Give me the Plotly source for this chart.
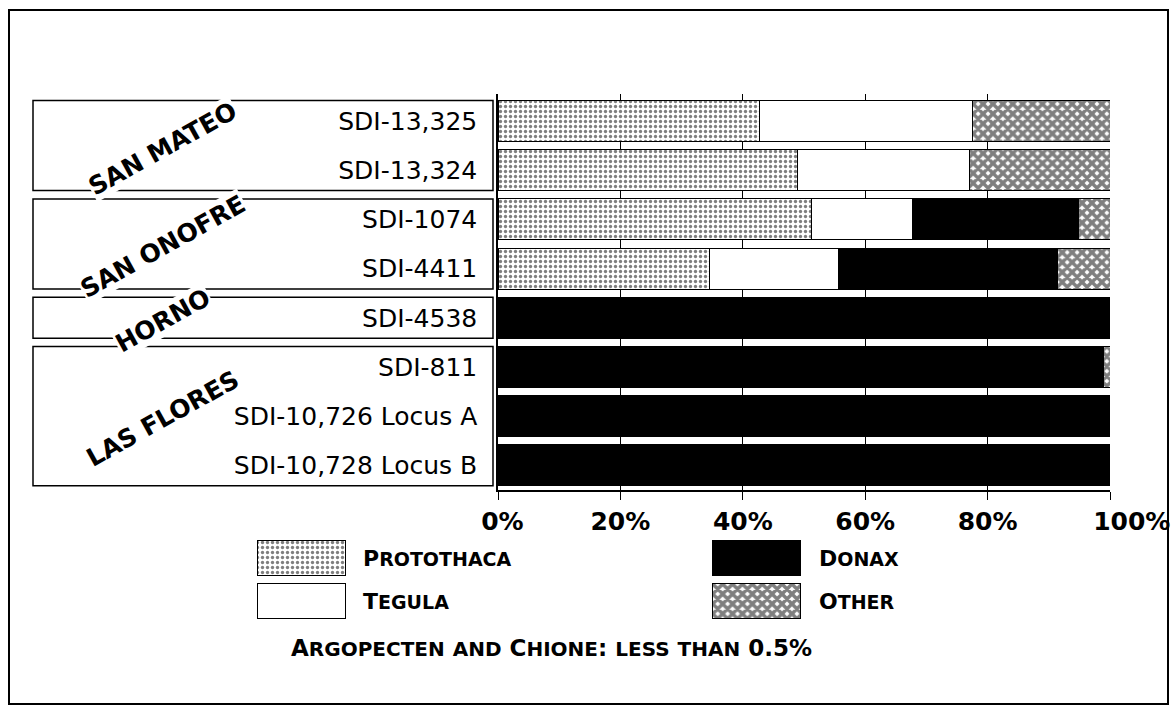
import plotly.graph_objects as go

# ---------------- data ----------------
sites = ["SDI-13,325", "SDI-13,324", "SDI-1074", "SDI-4411", "SDI-4538",
         "SDI-811", "SDI-10,726 Locus A", "SDI-10,728 Locus B"]
protothaca = [42.8, 49.0, 51.3, 34.6, 0, 0, 0, 0]
tegula = [34.8, 28.0, 16.5, 21.1, 0, 0, 0, 0]
donax = [0, 0, 27.0, 35.8, 100, 99.0, 100, 100]
other = [22.4, 23.0, 5.2, 8.5, 0, 1.0, 0, 0]
series_names = ["Protothaca", "Tegula", "Donax", "Other"]
groups = ["SAN MATEO", "SAN ONOFRE", "HORNO", "LAS FLORES"]
group_sizes = [2, 2, 1, 3]
x_ticks = [0, 20, 40, 60, 80, 100]
x_tick_labels = ["0%", "20%", "40%", "60%", "80%", "100%"]
note = "Argopecten and Chione: less than 0.5%"

# ---------------- styling ----------------
W, H = 1176, 708
def px(x):
    return x / W
def py(y):
    return 1 - y / H

def small_caps(s, small=19):
    """Render lowercase letters as smaller capitals (true text kept)."""
    out, buf, mode = [], "", None
    for ch in s:
        m = ch.islower()
        if mode is None or m == mode:
            buf += ch
        else:
            out.append((mode, buf))
            buf = ch
        mode = m
    out.append((mode, buf))
    return "".join(f"<span style='font-size:{small}px'>{b.upper()}</span>" if m else b for m, b in out)

pad = "\u00a0"
tick_text_shifted = [pad * 1 + x_tick_labels[0]] + x_tick_labels[1:-1] + [pad * 5 + x_tick_labels[-1]]

styles = {
    "Protothaca": dict(color="white", line=dict(color="black", width=1),
                       pattern=dict(shape=".", fgcolor="black", bgcolor="white", size=5, solidity=0.35)),
    "Tegula": dict(color="white", line=dict(color="black", width=1)),
    "Donax": dict(color="black", line=dict(color="black", width=1)),
    "Other": dict(color="white", line=dict(color="black", width=1),
                  pattern=dict(shape="x", fgcolor="black", bgcolor="white", size=7, solidity=0.75)),
}
values = {"Protothaca": protothaca, "Tegula": tegula, "Donax": donax, "Other": other}
label_font = dict(family="DejaVu Sans", size=22, color="black", weight=700)

fig = go.Figure()
for name in series_names:
    vals = [v if v else None for v in values[name]]
    fig.add_trace(go.Bar(y=sites, x=vals, orientation="h", name=name,
                         marker=styles[name], showlegend=False, hoverinfo="x+name"))

# legend swatches on a pixel-overlay axis
for i, name in enumerate(series_names):
    col, row = i // 2, i % 2
    fig.add_trace(go.Bar(y=[557.5 + row * 43], x=[88], base=[257 + col * 455], width=35,
                         orientation="h", marker=styles[name], xaxis="x2", yaxis="y2",
                         showlegend=False, hoverinfo="skip"))
    fig.add_annotation(x=px(361 + col * 456), y=py(558 + row * 43), xref="paper", yref="paper",
                       text=small_caps(name), showarrow=False, xanchor="left", yanchor="middle",
                       font=label_font)

fig.add_annotation(x=px(551), y=py(648), xref="paper", yref="paper", text=small_caps(note, 20),
                   showarrow=False, xanchor="center", yanchor="middle",
                   font=dict(label_font, size=23))

# group boxes and rotated group labels
half = (1 - 0.17) / 2
start = 0
for g, n in zip(groups, group_sizes):
    fig.add_shape(type="rect", xref="paper", yref="y", x0=px(33), x1=px(493),
                  y0=start - half, y1=start + n - 1 + half,
                  line=dict(color="black", width=1.5), fillcolor="rgba(0,0,0,0)", layer="below")
    fig.add_annotation(x=px(163), y=start + (n - 1) / 2 + 0.05, xref="paper", yref="y",
                       text=g, showarrow=False, textangle=-29, bgcolor="white", borderpad=0,
                       xanchor="center", yanchor="middle",
                       font=dict(family="DejaVu Sans", size=25, color="black", weight=700))
    start += n

# outer frame
fig.add_shape(type="rect", xref="paper", yref="paper", x0=px(9), x1=px(1168), y0=py(704), y1=py(10),
              line=dict(color="black", width=2))

fig.update_layout(
    width=W, height=H, autosize=False,
    margin=dict(l=0, r=0, t=0, b=0, autoexpand=False),
    paper_bgcolor="white", plot_bgcolor="rgba(0,0,0,0)",
    barmode="stack", bargap=0.17,
    showlegend=False,
    xaxis=dict(domain=[px(498), px(1110)], range=[0, 100], tickvals=x_ticks, ticktext=tick_text_shifted,
               ticks="outside", ticklen=8, tickcolor="black", tickwidth=1,
               showgrid=True, gridcolor="black", gridwidth=1, zeroline=False,
               showline=True, linecolor="black", linewidth=1.5, automargin=False,
               tickfont=dict(family="DejaVu Sans", size=25, color="black", weight=700),
               fixedrange=True),
    yaxis=dict(domain=[py(490), py(94)], type="category", categoryorder="array", categoryarray=sites,
               autorange="reversed", ticks="", showgrid=False, showline=True, linecolor="black",
               linewidth=1.5, ticklabelstandoff=14, automargin=False,
               tickfont=dict(family="DejaVu Sans", size=25, color="black"), fixedrange=True),
    xaxis2=dict(domain=[0, 1], range=[0, W], anchor="y2", visible=False, fixedrange=True, automargin=False),
    yaxis2=dict(domain=[0, 1], range=[H, 0], anchor="x2", visible=False, fixedrange=True, automargin=False),
)

fig.write_html("out.html", config={"displayModeBar": False},
               post_script="document.body.style.margin='0';")
